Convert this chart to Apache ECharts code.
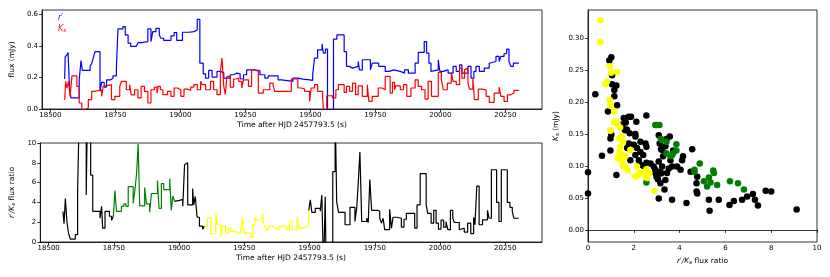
<!DOCTYPE html>
<html><head><meta charset="utf-8">
<script src="https://cdn.jsdelivr.net/npm/echarts@6/dist/echarts.min.js"></script>
<style>html,body{margin:0;padding:0;background:#fff}#c{width:830px;height:277px}</style>
</head><body><div id="c"></div>
<script>
const timeTicks = [18500,18750,19000,19250,19500,19750,20000,20250];
const ksTicks = [0,0.05,0.1,0.15,0.2,0.25,0.3];

// r' flux (blue), step change points
const rTime = [18555,18557,18564,18568,18573,18579,18611,18618,18623,18653,18659,18665,18672,18691,18697,18707,18716,18733,18741,18754,18760,18779,18788,18799,18809,18830,18837,18852,18875,18887,18894,18906,18919,18925,18936,18964,18976,18986,19008,19033,19052,19065,19075,19088,19097,19109,19122,19141,19154,19167,19192,19205,19217,19230,19243,19255,19281,19306,19325,19338,19357,19376,19389,19433,19452,19471,19497,19509,19516,19528,19545,19550,19558,19566,19589,19602,19630,19639,19649,19662,19684,19689,19700,19731,19738,19763,19788,19804,19820,19846,19862,19877,19903,19915,19938,19947,19956,19964,19970,19992,19998,20011,20030,20049,20061,20074,20083,20106,20118,20129,20137,20150,20169,20188,20195,20214,20226,20233,20245,20255,20264,20271,20281,20302];
const rFlux = [0.19,0.33,0.343,0.358,0.164,0.07,0.185,0.307,0.244,0.27,0.29,0.322,0.364,0.112,0.168,0.139,0.185,0.196,0.21,0.259,0.507,0.522,0.469,0.417,0.396,0.385,0.42,0.427,0.507,0.427,0.49,0.51,0.469,0.448,0.434,0.463,0.484,0.434,0.486,0.49,0.5,0.568,0.29,0.223,0.196,0.244,0.202,0.238,0.23,0.196,0.217,0.227,0.223,0.19,0.217,0.248,0.244,0.217,0.196,0.21,0.21,0.185,0.175,0.196,0.189,0.185,0.181,0.217,0.322,0.375,0.413,0.354,0.379,-0.1,0.442,0.469,0.364,0.27,0.259,0.27,0.301,0.248,0.312,0.248,0.29,0.27,0.238,0.248,0.238,0.227,0.248,0.227,0.29,0.358,0.427,0.354,0.29,0.238,0.248,0.312,0.238,0.248,0.227,0.27,0.238,0.28,0.227,0.27,0.196,0.238,0.27,0.238,0.259,0.29,0.301,0.333,0.301,0.333,0.35,0.379,0.301,0.27,0.29,0.29];

// Ks flux (red), step change points
const kTime = [18555,18559,18564,18570,18576,18583,18602,18611,18621,18634,18646,18659,18669,18697,18703,18710,18735,18748,18767,18773,18792,18805,18811,18824,18837,18849,18862,18875,18887,18900,18910,18915,18923,18933,18951,18964,18976,18989,19002,19014,19027,19040,19052,19065,19078,19084,19097,19116,19128,19141,19154,19160,19167,19173,19179,19192,19205,19215,19224,19236,19243,19262,19274,19287,19300,19319,19344,19357,19363,19427,19452,19465,19478,19497,19503,19516,19528,19547,19554,19563,19585,19598,19608,19630,19639,19651,19662,19674,19684,19700,19719,19725,19738,19761,19776,19788,19807,19816,19824,19829,19846,19858,19871,19887,19903,19915,19928,19941,19953,19966,19992,20004,20011,20027,20042,20049,20061,20074,20083,20093,20099,20106,20112,20125,20131,20146,20159,20176,20188,20207,20226,20233,20245,20258,20271,20283,20302];
const kFlux = [0.059,0.175,0.133,0.175,0.08,0.21,0.143,0.038,-0.005,0.006,0.059,0.112,0.122,0.08,0.143,0.154,0.059,0.08,0.143,0.175,0.122,0.154,0.09,0.122,0.07,0.143,0.112,0.038,0.122,0.139,0.101,0.143,0.122,0.091,0.112,0.08,0.133,0.122,0.08,0.126,0.118,0.139,0.154,0.122,0.175,0.154,0.122,0.175,0.122,0.091,0.238,0.322,0.143,0.091,0.206,0.139,0.19,0.196,0.175,0.133,0.185,0.143,0.248,0.238,0.101,0.122,0.164,0.147,0.112,0.19,0.133,0.126,0.112,0.048,0.133,0.154,0.112,0.08,-0.1,0.084,0.07,0.122,0.154,0.105,0.143,0.112,0.164,0.091,0.147,0.08,0.154,0.048,0.08,0.133,0.122,0.206,0.101,0.168,0.122,0.147,0.122,0.154,0.08,0.133,0.185,0.143,0.122,0.063,0.175,0.08,0.232,0.185,0.122,0.164,0.232,0.175,0.154,0.259,0.196,0.248,0.259,0.164,0.126,0.196,0.059,0.126,0.122,0.08,0.042,0.101,0.139,0.08,0.048,0.09,0.101,0.118,0.118];

// r'/Ks flux ratio, step change points
const ratioTime = [18555,18559,18564,18570,18576,18583,18602,18611,18618,18644,18649,18661,18669,18697,18703,18707,18716,18733,18741,18748,18754,18760,18779,18788,18796,18805,18824,18830,18837,18843,18849,18868,18875,18887,18894,18917,18923,18932,18941,18964,18970,18976,18983,18986,19002,19014,19021,19027,19033,19052,19056,19062,19069,19078,19090,19097,19109,19116,19122,19141,19147,19160,19167,19179,19189,19198,19211,19236,19243,19249,19274,19283,19291,19296,19309,19319,19325,19332,19344,19357,19370,19382,19414,19423,19433,19452,19459,19471,19497,19503,19509,19522,19541,19547,19554,19560,19564,19589,19598,19604,19611,19636,19655,19674,19681,19687,19693,19700,19719,19725,19731,19738,19761,19769,19776,19782,19788,19807,19814,19820,19833,19852,19862,19871,19903,19912,19924,19947,19953,19966,19976,19985,19994,20004,20014,20023,20030,20040,20049,20055,20074,20080,20093,20106,20118,20129,20134,20141,20150,20163,20182,20188,20197,20217,20226,20235,20258,20268,20277,20283,20302];
const ratioValue = [3.08,1.84,4.4,2.07,0.9,0.3,0.74,5.25,14,4.75,14,6.76,3.1,2.4,3.6,1.4,3.1,2.6,2.2,2.6,5.2,3.1,3.6,3.85,3.6,5.6,3.9,5.1,6.9,9.9,3.65,5.5,3.85,3.0,4.9,6.2,3.4,5.9,5.3,6.4,3.2,4.65,4.1,4.2,4.3,3.6,7.8,8.0,3.75,5.4,3.75,4.6,2.5,1.6,1.3,1.6,2.4,2.5,0.84,2.9,1.74,0.5,1.6,0.9,1.4,1.07,0.9,1.3,2.5,0.9,0.5,1.74,2.5,2.2,2.3,2.9,1.8,1.24,1.6,1.4,1.24,1.6,1.24,2.07,1.24,2.5,1.4,1.6,3.2,4.25,3.0,3.4,3.1,4.75,-3,4.6,-3,7.1,14,4.1,3.0,1.74,3.5,2.07,3.5,6.1,9.1,2.07,2.4,1.97,6.3,3.2,3.1,2.4,1.9,2.4,1.24,3.3,1.4,2.5,2.4,1.5,2.3,2.9,1.4,3.75,6.9,3.75,2.9,1.9,3.2,1.9,1.3,2.2,1.5,2.07,1.24,3.2,2.4,1.97,1.24,1.4,1.0,1.9,0.84,2.5,1.74,5.65,1.74,2.24,3.2,2.4,7.3,4.0,2.07,7.3,4.0,3.5,3.1,2.4,2.4];
// phase boundaries (s): green phase and yellow phase
const greenPhase = [18748, 18983];
const yellowPhase = [19097, 19497];

// scatter: Ks vs ratio
const blackRatio = [0.32,0.93,1.02,1.05,1.05,1.24,1.15,1.15,1.27,0.87,1.56,1.78,1.88,2.11,2.55,1.6,1.7,2.07,1.02,1.5,1.65,0,0,0.61,0.98,1.24,0.98,1.63,1.82,2.07,1.78,2.0,2.14,2.29,2.41,2.07,1.85,1.71,2.29,2.51,2.55,2.22,2.29,2.43,2.55,2.73,2.87,2.94,2.94,2.99,3.05,3.16,3.24,3.19,3.16,3.34,3.09,3.38,3.45,3.53,3.67,3.6,3.72,3.28,3.19,3.13,3.24,3.38,3.57,3.43,3.09,3.09,3.89,4.11,4.15,4.04,4.48,4.55,4.77,4.74,4.74,4.77,3.67,4.3,5.28,5.31,5.71,6.18,6.37,6.73,6.95,7.2,7.29,7.42,7.76,8.0,9.11];
const blackKs = [0.212,0.265,0.27,0.242,0.228,0.226,0.219,0.209,0.195,0.185,0.175,0.177,0.177,0.169,0.179,0.157,0.157,0.15,0.149,0.165,0.168,0.09,0.057,0.116,0.124,0.086,0.143,0.156,0.151,0.146,0.135,0.133,0.128,0.122,0.117,0.117,0.109,0.128,0.138,0.135,0.13,0.109,0.102,0.1,0.105,0.104,0.099,0.094,0.089,0.083,0.079,0.091,0.099,0.088,0.073,0.063,0.049,0.078,0.089,0.096,0.099,0.109,0.124,0.115,0.126,0.135,0.125,0.131,0.146,0.142,0.148,0.107,0.099,0.109,0.115,0.094,0.091,0.126,0.083,0.073,0.06,0.057,0.047,0.042,0.047,0.03,0.047,0.039,0.045,0.047,0.052,0.056,0.047,0.038,0.061,0.06,0.032];
const greenRatio = [2.94,3.0,3.12,3.19,3.19,3.43,3.43,3.72,3.86,3.86,3.67,3.6,4.65,4.65,4.88,5.35,5.28,5.47,5.5,5.06,5.2,5.64,6.2,6.55,6.81,2.55];
const greenKs = [0.164,0.164,0.164,0.142,0.141,0.138,0.12,0.12,0.134,0.124,0.117,0.115,0.094,0.091,0.104,0.074,0.082,0.093,0.089,0.076,0.068,0.07,0.076,0.073,0.063,0.074];
const yellowRatio = [0.54,0.54,0.95,1.01,1.27,0.83,0.76,0.95,0.98,1.15,0.98,1.15,1.3,1.4,1.2,0.98,1.37,1.49,1.53,1.41,1.37,1.3,1.49,1.63,1.63,1.73,1.85,2.14,2.19,2.07,2.29,2.55,2.51,2.58,2.68,2.9,1.49,1.53];
const yellowKs = [0.328,0.294,0.256,0.246,0.247,0.232,0.228,0.203,0.194,0.185,0.156,0.168,0.165,0.16,0.17,0.155,0.143,0.146,0.138,0.13,0.122,0.112,0.117,0.115,0.099,0.093,0.125,0.099,0.086,0.084,0.09,0.095,0.084,0.081,0.089,0.061,0.107,0.1];

const zip = (a, b) => a.map((v, i) => [v, b[i]]);
const ratioPts = zip(ratioTime, ratioValue);
const seg = (a, b) => ratioPts.filter(p => p[0] >= a && p[0] <= b);
const tStart = ratioTime[0], tEnd = ratioTime[ratioTime.length - 1];

const FONT = 'DejaVu Sans';
const tickLbl = { fontSize: 7, color: '#000', fontFamily: FONT };
const nameStyle = { fontSize: 7.5, color: '#000', fontFamily: FONT,
  rich: { i: { fontStyle: 'italic', fontSize: 7.5, fontFamily: FONT, color: '#000' },
          sub: { fontStyle: 'italic', fontSize: 5.5, fontFamily: FONT, color: '#000', verticalAlign: 'bottom', padding: [3,0,0,0] } } };
const axLine = { show: true, lineStyle: { color: '#000', width: 0.8 } };
const axTick = { show: true, length: 3, lineStyle: { color: '#000', width: 0.8 } };

function timeAxis(gi) {
  return { type: 'value', gridIndex: gi, min: 18468, max: 20391,
    name: 'Time after HJD 2457793.5 (s)', nameLocation: 'middle', nameGap: 12, nameTextStyle: nameStyle,
    axisLine: axLine, axisTick: Object.assign({ customValues: timeTicks }, axTick),
    axisLabel: Object.assign({ customValues: timeTicks, margin: 3, formatter: v => String(v) }, tickLbl),
    splitLine: { show: false } };
}
const gridBase = { show: true, borderColor: '#000', borderWidth: 0.8, backgroundColor: 'transparent', containLabel: false };

const stepLine = (data, color, xi) => ({ type: 'line', xAxisIndex: xi, yAxisIndex: xi, data, step: 'end',
  showSymbol: false, symbol: 'none', clip: true, lineStyle: { color, width: 1.2 }, silent: true, animation: false });
const dots = (xs, ys, color) => ({ type: 'scatter', xAxisIndex: 2, yAxisIndex: 2, data: zip(xs, ys),
  symbolSize: 6.5, itemStyle: { color, opacity: 1 }, silent: true, animation: false });

const chart = echarts.init(document.getElementById('c'), null, { renderer: 'canvas' });
chart.setOption({
  animation: false,
  backgroundColor: '#fff',
  grid: [
    Object.assign({ left: 37, top: 10, width: 505, height: 99 }, gridBase),
    Object.assign({ left: 37, top: 143, width: 505, height: 99 }, gridBase),
    Object.assign({ left: 588, top: 10, width: 229, height: 232 }, gridBase)
  ],
  xAxis: [
    timeAxis(0), timeAxis(1),
    { type: 'value', gridIndex: 2, min: 0, max: 10, interval: 2,
      name: '{i|r′/K}{sub|s} flux ratio', nameLocation: 'middle', nameGap: 12, nameTextStyle: nameStyle,
      axisLine: axLine, axisTick: axTick, axisLabel: Object.assign({ margin: 3 }, tickLbl), splitLine: { show: false } }
  ],
  yAxis: [
    { type: 'value', gridIndex: 0, min: 0, max: 0.627, interval: 0.2,
      name: 'flux (mJy)', nameLocation: 'middle', nameGap: 20, nameTextStyle: nameStyle,
      axisLine: axLine, axisTick: axTick, axisLabel: Object.assign({ margin: 4, formatter: v => v.toFixed(1) }, tickLbl), splitLine: { show: false } },
    { type: 'value', gridIndex: 1, min: 0, max: 10, interval: 2,
      name: '{i|r′/K}{sub|s} flux ratio', nameLocation: 'middle', nameGap: 16, nameTextStyle: nameStyle,
      axisLine: axLine, axisTick: axTick, axisLabel: Object.assign({ margin: 4 }, tickLbl), splitLine: { show: false } },
    { type: 'value', gridIndex: 2, min: -0.019, max: 0.344,
      name: '{i|K}{sub|s} (mJy)', nameLocation: 'middle', nameGap: 27, nameTextStyle: nameStyle,
      axisLine: axLine, axisTick: Object.assign({ customValues: ksTicks }, axTick),
      axisLabel: Object.assign({ customValues: ksTicks, margin: 4, formatter: v => v.toFixed(2) }, tickLbl), splitLine: { show: false } }
  ],
  series: [
    stepLine(zip(rTime, rFlux), '#0000ff', 0),
    stepLine(zip(kTime, kFlux), '#ff0000', 0),
    stepLine(seg(tStart, greenPhase[0]), '#000000', 1),
    stepLine(seg(greenPhase[0], greenPhase[1]), '#008000', 1),
    stepLine(seg(greenPhase[1], yellowPhase[0]), '#000000', 1),
    stepLine(seg(yellowPhase[0], yellowPhase[1]), '#ffff00', 1),
    stepLine(seg(yellowPhase[1], tEnd), '#000000', 1),
    dots(blackRatio, blackKs, '#000000'),
    dots(greenRatio, greenKs, '#008000'),
    dots(yellowRatio, yellowKs, '#ffff00')
  ],
  graphic: [
    { type: 'text', left: 58, top: 14, style: { text: 'r′', fill: '#0000ff', font: 'italic 8px DejaVu Sans' } },
    { type: 'text', left: 58, top: 25, style: { text: '{k|K}{s|s}', fill: '#ff0000',
      rich: { k: { font: 'italic 8px DejaVu Sans', fill: '#ff0000' }, s: { font: 'italic 5.5px DejaVu Sans', fill: '#ff0000', padding: [4,0,0,0] } } } }
  ]
});
</script></body></html>
